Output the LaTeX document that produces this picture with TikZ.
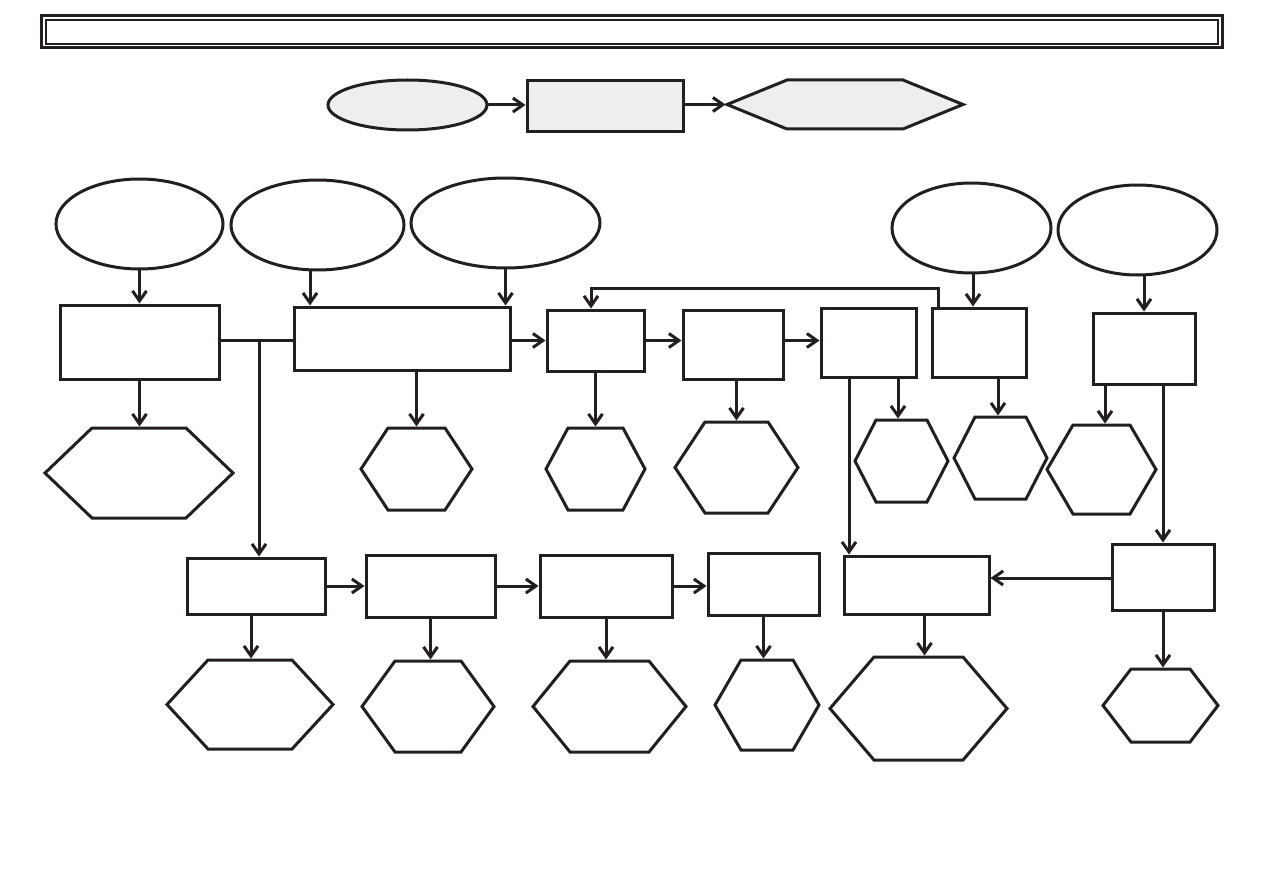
\documentclass[tikz,border=0pt]{standalone}
\usetikzlibrary{arrows.meta,shapes.geometric}
\definecolor{lgray}{RGB}{239,238,238}
\definecolor{ink}{RGB}{35,31,32}
\newcommand\hexnode[7]{%
  \node[hexbox,minimum width={#3-#2},minimum height={#5-#4}] (#1) at ({(#2+#3)/2},{(#4+#5)/2}) {};
  \draw[hexline,#7] (#1.west) -- ([xshift=#6]#1.north west) -- ([xshift=-#6]#1.north east) -- (#1.east) -- ([xshift=-#6]#1.south east) -- ([xshift=#6]#1.south west) -- cycle;
}
\newcommand\boxnode[6]{%
  \node[box,#6,minimum width={#3-#2},minimum height={#5-#4}] (#1) at ({(#2+#3)/2},{(#4+#5)/2}) {};
}
\begin{document}
\begin{tikzpicture}[x=1pt,y=-1pt,
 box/.style={draw=ink, line width=3pt, inner sep=0pt, outer sep=0pt},
 ell/.style={draw=ink, ellipse, line width=3pt, inner sep=0pt, outer sep=0pt},
 hexbox/.style={inner sep=0pt, outer sep=0pt},
 hexline/.style={draw=ink, line width=3pt, line join=miter},
 arr/.style={draw=ink, line width=3pt, shorten >=1.5pt, -{Straight Barb[length=10pt,width=14pt]}},
 conn/.style={draw=ink, line width=3pt}]
\useasboundingbox[fill=white] (0,0) rectangle (1263,893);
% title frame
\node[draw=ink, line width=3pt, minimum width=1181, minimum height=32, inner sep=0pt] (frame) at (631.5,32) {};
\node[draw=ink, line width=1.5pt, minimum width=1172, minimum height=24, inner sep=0pt] (frameinner) at (632,32) {};
% legend
\node[ell, fill=lgray, minimum width=159, minimum height=50] (L1) at (407.5,105) {};
\boxnode{L2}{527}{683}{81}{132}{fill=lgray}
\hexnode{L3}{727}{963}{80}{129}{60}{fill=lgray}
\draw[arr] (L1.east) -- (L1.east -| L2.west);
\draw[arr] (L2.east |- L3.west) -- (L3.west);
% ellipses
\node[ell, minimum width=167, minimum height=90] (E1) at (139.5,224) {};
\node[ell, minimum width=173, minimum height=90] (E2) at (317.5,225) {};
\node[ell, minimum width=189, minimum height=90] (E3) at (505.5,223) {};
\node[ell, minimum width=159, minimum height=90] (E4) at (971.5,228) {};
\node[ell, minimum width=159, minimum height=90] (E5) at (1137.5,230) {};
% row of boxes
\boxnode{R1}{60}{219}{305}{379}{}
\boxnode{R2}{294}{510}{307}{370}{}
\boxnode{R3}{547}{644}{310}{371}{}
\boxnode{R4}{683}{783}{310}{379}{}
\boxnode{R5}{821}{916}{308}{377}{}
\boxnode{R6}{932}{1026}{308}{377}{}
\boxnode{R7}{1093}{1195}{313}{384}{}
% hexagons, middle row
\hexnode{H1}{45}{233}{428}{518}{47}{}
\hexnode{H2}{361}{472}{428}{510}{27}{}
\hexnode{H3}{546}{645}{428}{510}{22}{}
\hexnode{H4}{675}{798}{422}{513}{30}{}
\hexnode{H5}{855}{948}{420}{502}{21}{}
\hexnode{H6}{954}{1047}{417}{499}{21}{}
\hexnode{H7}{1047}{1156}{425}{514}{26}{}
% bottom boxes
\boxnode{B1}{187}{325}{558}{614}{}
\boxnode{B2}{366}{495}{555}{617}{}
\boxnode{B3}{540}{672}{555}{617}{}
\boxnode{B4}{708}{819}{553}{615}{}
\boxnode{B5}{844}{989}{556}{614}{}
\boxnode{B6}{1112}{1214}{544}{610}{}
% bottom hexagons
\hexnode{G1}{167}{333}{660}{749}{41}{}
\hexnode{G2}{362}{494}{661}{752}{33}{}
\hexnode{G3}{533}{686}{661}{752}{37}{}
\hexnode{G4}{715}{819}{660}{750}{26}{}
\hexnode{G5}{830}{1007}{657}{760}{44}{}
\hexnode{G6}{1103}{1218}{669}{742}{28}{}
% ellipse -> box
\draw[arr] (E1.south) -- (E1.south |- R1.north);
\draw[arr] ([xshift=-7.5]E2.south) -- ([xshift=-7.5]E2.south |- R2.north);
\draw[arr] (E3.south) -- (E3.south |- R2.north);
\draw[arr] ([xshift=1.5]E4.south) -- ([xshift=1.5]E4.south |- R6.north);
\draw[arr] (R7.north |- E5.south) -- (R7.north);
% box chain
\coordinate (J) at (259,340);
\draw[conn] (R1.east |- J) -- (R2.west |- J);
\draw[arr] (J) -- (J |- B1.north);
\draw[arr] (R2.east |- R3.west) -- (R3.west);
\draw[arr] (R3.east) -- (R3.east -| R4.west);
\draw[arr] (R3.east -| R4.east) -- (R3.east -| R5.west);
\coordinate (fb) at (938,288);
\draw[arr] (R6.north -| fb) -- (fb) -| ([xshift=-4.5]R3.north);
% box -> hexagon
\draw[arr] (R1.south) -- (R1.south |- H1.north);
\draw[arr] (H2.north |- R2.south) -- (H2.north);
\draw[arr] (R3.south) -- (R3.south |- H3.north);
\draw[arr] (H4.north |- R4.south) -- (H4.north);
\draw[arr] ([xshift=-3.5]H5.north |- R5.south) -- ([xshift=-3.5]H5.north);
\draw[arr] ([xshift=-2.5]H6.north |- R6.south) -- ([xshift=-2.5]H6.north);
\draw[arr] ([xshift=3.5]H7.north |- R7.south) -- ([xshift=3.5]H7.north);
\draw[arr] ([xshift=28]R5.south west) -- ([xshift=28]R5.south west |- B5.north);
\draw[arr] (B6.north |- R7.south) -- (B6.north);
% bottom chain
\draw[arr] (B1.east) -- (B1.east -| B2.west);
\draw[arr] (B2.east) -- (B2.east -| B3.west);
\draw[arr] (B3.east) -- (B3.east -| B4.west);
\draw[arr] ([yshift=-1]B6.west) -- ([yshift=-1]B6.west -| B5.east);
% bottom box -> hexagon
\draw[arr] ([xshift=-5]B1.south) -- ([xshift=-5]B1.south |- G1.north);
\draw[arr] (B2.south) -- (B2.south |- G2.north);
\draw[arr] (B3.south) -- (B3.south |- G3.north);
\draw[arr] (B4.south) -- (B4.south |- G4.north);
\draw[arr] ([xshift=8]B5.south) -- ([xshift=8]B5.south |- G5.north);
\draw[arr] (B6.south) -- (B6.south |- G6.north);
\end{tikzpicture}
\end{document}
